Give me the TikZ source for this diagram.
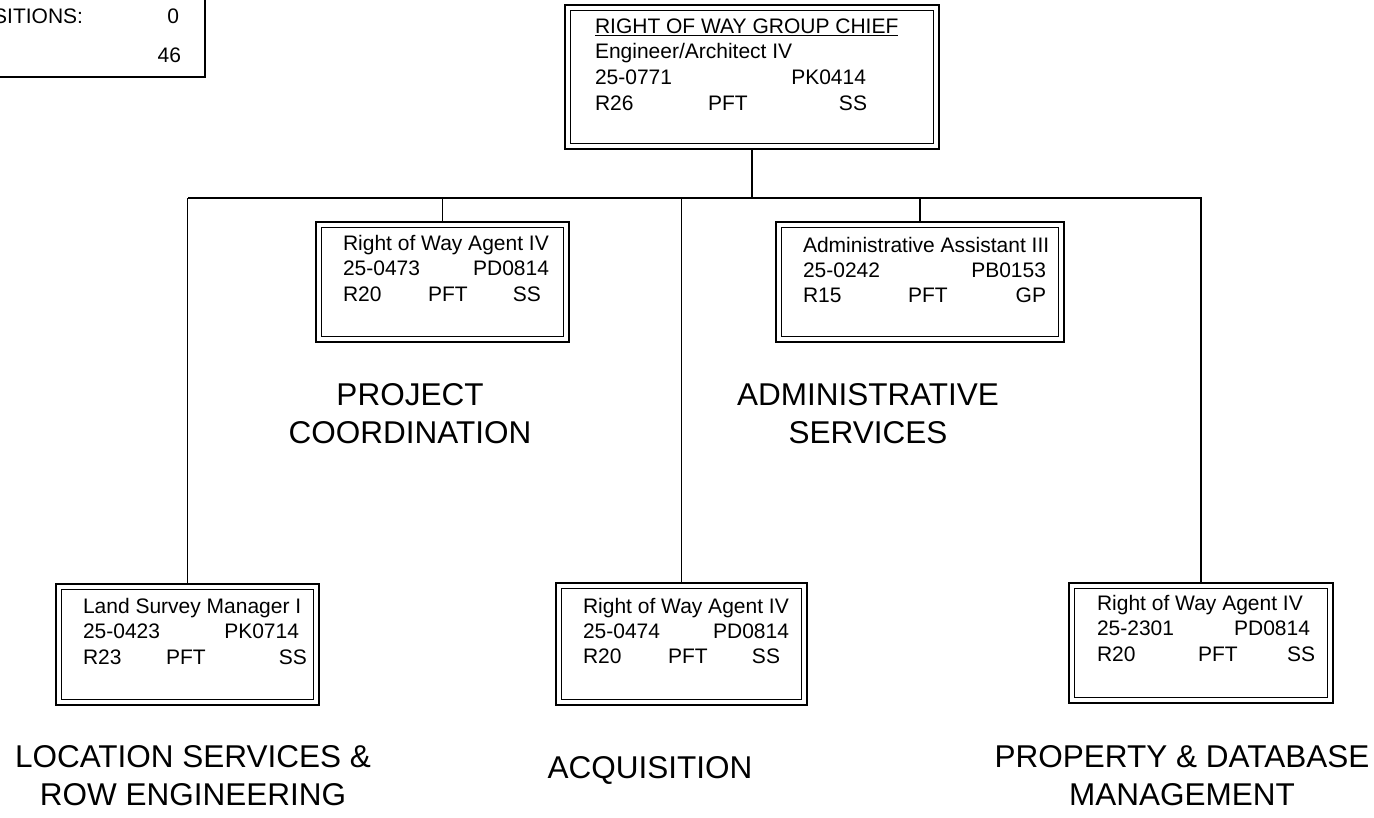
\documentclass[tikz,border=0pt]{standalone}
\usepackage{fontspec}
\setmainfont{Liberation Sans}
\newcommand\bxfont{\fontsize{21}{25}\selectfont}
\newcommand\lbfont{\fontsize{31.5}{38}\selectfont}
\begin{document}
\begin{tikzpicture}[x=1pt,y=-1pt,
  boxo/.style={draw,line width=1.8pt,rectangle,inner sep=0pt,outer sep=0pt},
  boxi/.style={line width=1.3pt},
  conn/.style={line width=1.4pt},
  tx/.style={font=\bxfont,inner sep=0pt,outer sep=0pt},
  tw/.style={tx,anchor=base west},
  te/.style={tx,anchor=base east},
  lbl/.style={font=\lbfont,inner sep=0pt,outer sep=0pt,anchor=base}]
\useasboundingbox (0,0) rectangle (1374,817);
\clip (0,0) rectangle (1374,817);
% boxes
\node[boxo,minimum width=374pt,minimum height=144pt] (top) at (752,77) {};
\node[boxo,minimum width=253pt,minimum height=120pt] (proj) at (442.5,282) {};
\node[boxo,minimum width=288pt,minimum height=120pt] (admin) at (920,282) {};
\node[boxo,minimum width=263pt,minimum height=121pt] (bl) at (187.5,644.5) {};
\node[boxo,minimum width=251pt,minimum height=122pt] (bm) at (681.5,644) {};
\node[boxo,minimum width=264pt,minimum height=120pt] (br) at (1201,643) {};
\foreach \n in {top,proj,admin,bl,bm,br}
  \draw[boxi] ([xshift=5.5pt,yshift=-5.5pt]\n.north west) rectangle ([xshift=-5.5pt,yshift=5.5pt]\n.south east);
% connectors
\coordinate (busL) at (188,198);
\coordinate (busR) at (1202,198);
\draw[conn] (busL) -- (busR);
\draw[conn] (top.south) -- (top.south |- busL);
\draw[conn] (proj.north) -- (proj.north |- busL);
\draw[conn] (admin.north) -- (admin.north |- busL);
\draw[conn] (bl.north) -- (bl.north |- busL);
\draw[conn] (bm.north) -- (bm.north |- busL);
\draw[conn] (br.north) -- (br.north |- busL);
% top-left summary box
\coordinate (tlA) at (-3,77);
\coordinate (tlB) at (205,77);
\coordinate (tlC) at (205,-3);
\draw[line width=1.8pt] (tlA) -- (tlB) -- (tlC);
\node[te] (s1) at (83,23) {POSITIONS:};
\node[te] (s2) at (179,23) {0};
\node[te] (s3) at (181,62) {46};
% top box text
\node[tw] (t1) at (595,33) {RIGHT OF WAY GROUP CHIEF};
\draw[line width=1.2pt] ([yshift=-2.5pt]t1.base west) -- ([yshift=-2.5pt]t1.base east);
\node[tw] (t2) at (595,58.5) {Engineer/Architect IV};
\node[tw] (t3) at (595,84) {25-0771};
\node[te] (t4) at (866,84) {PK0414};
\node[tw] (t5) at (595,110) {R26};
\node[tw] (t6) at (708,110) {PFT};
\node[te] (t7) at (867,110) {SS};
% project box text
\node[tw] (p1) at (343,250) {Right of Way Agent IV};
\node[tw] (p2) at (343,275) {25-0473};
\node[te] (p3) at (549,275) {PD0814};
\node[tw] (p4) at (343,301) {R20};
\node[tw] (p5) at (428,301) {PFT};
\node[te] (p6) at (541,301) {SS};
% admin box text
\node[tw] (a1) at (803,252) {Administrative Assistant III};
\node[tw] (a2) at (803,277) {25-0242};
\node[te] (a3) at (1046,277) {PB0153};
\node[tw] (a4) at (803,302) {R15};
\node[tw] (a5) at (908,302) {PFT};
\node[te] (a6) at (1046,302) {GP};
% bottom-left
\node[tw] (l1) at (83,613) {Land Survey Manager I};
\node[tw] (l2) at (83,638) {25-0423};
\node[te] (l3) at (299,638) {PK0714};
\node[tw] (l4) at (83,664) {R23};
\node[tw] (l5) at (166,664) {PFT};
\node[te] (l6) at (307,664) {SS};
% bottom-middle
\node[tw] (m1) at (583,613) {Right of Way Agent IV};
\node[tw] (m2) at (583,638) {25-0474};
\node[te] (m3) at (789,638) {PD0814};
\node[tw] (m4) at (583,663) {R20};
\node[tw] (m5) at (668,663) {PFT};
\node[te] (m6) at (780,663) {SS};
% bottom-right
\node[tw] (r1) at (1097,610) {Right of Way Agent IV};
\node[tw] (r2) at (1097,635) {25-2301};
\node[te] (r3) at (1310,635) {PD0814};
\node[tw] (r4) at (1097,661) {R20};
\node[tw] (r5) at (1198,661) {PFT};
\node[te] (r6) at (1315,661) {SS};
% section labels
\node[lbl] (L1) at (410,405) {PROJECT};
\node[lbl] (L2) at (410,443) {COORDINATION};
\node[lbl] (L3) at (868,405) {ADMINISTRATIVE};
\node[lbl] (L4) at (868,443) {SERVICES};
\node[lbl] (L5) at (193,767) {LOCATION SERVICES \&};
\node[lbl] (L6) at (193,805) {ROW ENGINEERING};
\node[lbl] (L7) at (650,778) {ACQUISITION};
\node[lbl] (L8) at (1182,767) {PROPERTY \& DATABASE};
\node[lbl] (L9) at (1182,805) {MANAGEMENT};
\end{tikzpicture}
\end{document}
